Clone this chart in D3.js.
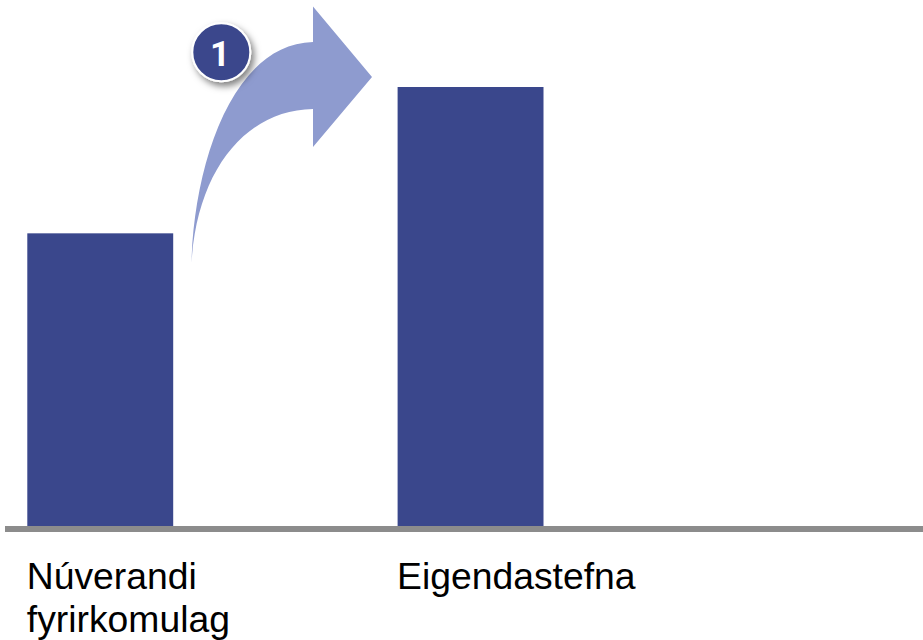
<!DOCTYPE html>
<html>
<head>
<meta charset="utf-8">
<script src="https://d3js.org/d3.v7.min.js"></script>
<style>
    html, body { margin: 0; padding: 0; background: #fff; }
    svg { display: block; }
</style>
</head>
<body>
<svg></svg>
<script>
const categories = ['Núverandi fyrirkomulag', 'Eigendastefna']
const categoryLines = [['Núverandi', 'fyrirkomulag'], ['Eigendastefna']]
const values = [100, 150]
const badgeLabel = '1'

const svgWidth = 923
const svgHeight = 640
const baseline = 526
const barColor = '#3a478c'
const arrowColor = '#8e9bcf'
const axisColor = '#8c8c8c'
const fontName = '"Liberation Sans", Arial, sans-serif'

const svg = d3.select('svg')
    .attr('width', svgWidth)
    .attr('height', svgHeight)

const x = d3.scaleBand()
    .domain(categories)
    .range([27.3, 543.5])
    .paddingInner(0.606)

const y = d3.scaleLinear()
    .domain([0, 150])
    .range([baseline, 87])

// Drop shadow for the numbered badge
const shadow = svg.append('defs').append('filter')
    .attr('id', 'badgeShadow')
    .attr('x', '-30%')
    .attr('y', '-30%')
    .attr('width', '170%')
    .attr('height', '170%')
shadow.append('feDropShadow')
    .attr('dx', 3)
    .attr('dy', 4)
    .attr('stdDeviation', 3.5)
    .attr('flood-color', '#000')
    .attr('flood-opacity', 0.5)

svg.selectAll('rect.bar')
    .data(values)
    .join('rect')
    .attr('class', 'bar')
    .attr('x', (d, i) => x(categories[i]))
    .attr('y', d => y(d))
    .attr('width', x.bandwidth())
    .attr('height', d => y(0) - y(d))
    .attr('fill', barColor)

// Baseline
svg.append('rect')
    .attr('x', 5)
    .attr('y', baseline)
    .attr('width', svgWidth - 5)
    .attr('height', 6)
    .attr('fill', axisColor)

// Category labels, one or two lines each
categoryLines.forEach((lines, i) => {
    lines.forEach((line, j) => {
        svg.append('text')
            .attr('x', x(categories[i]) - 0.5)
            .attr('y', 589 + j * 43)
            .attr('font-family', fontName)
            .attr('font-size', 37.3)
            .attr('fill', '#000')
            .text(line)
    })
})

// Curved arrow going from the first bar to the second
svg.append('path')
    .attr('d', 'M191.5,263 C194,165 232,44 313,42 L313,6.5 L372,77 L313,147 L313,109 C246,110 197,170 191.5,263 Z')
    .attr('fill', arrowColor)

// Numbered badge
svg.append('circle')
    .attr('cx', 221.3)
    .attr('cy', 52.2)
    .attr('r', 29)
    .attr('fill', barColor)
    .attr('stroke', '#fff')
    .attr('stroke-width', 2)
    .attr('filter', 'url(#badgeShadow)')

svg.append('text')
    .attr('x', 220)
    .attr('y', 65.5)
    .attr('text-anchor', 'middle')
    .attr('font-family', 'Roboto, sans-serif')
    .attr('font-size', 35)
    .attr('font-weight', 'bold')
    .attr('fill', '#fff')
    .text(badgeLabel)
</script>
</body>
</html>
